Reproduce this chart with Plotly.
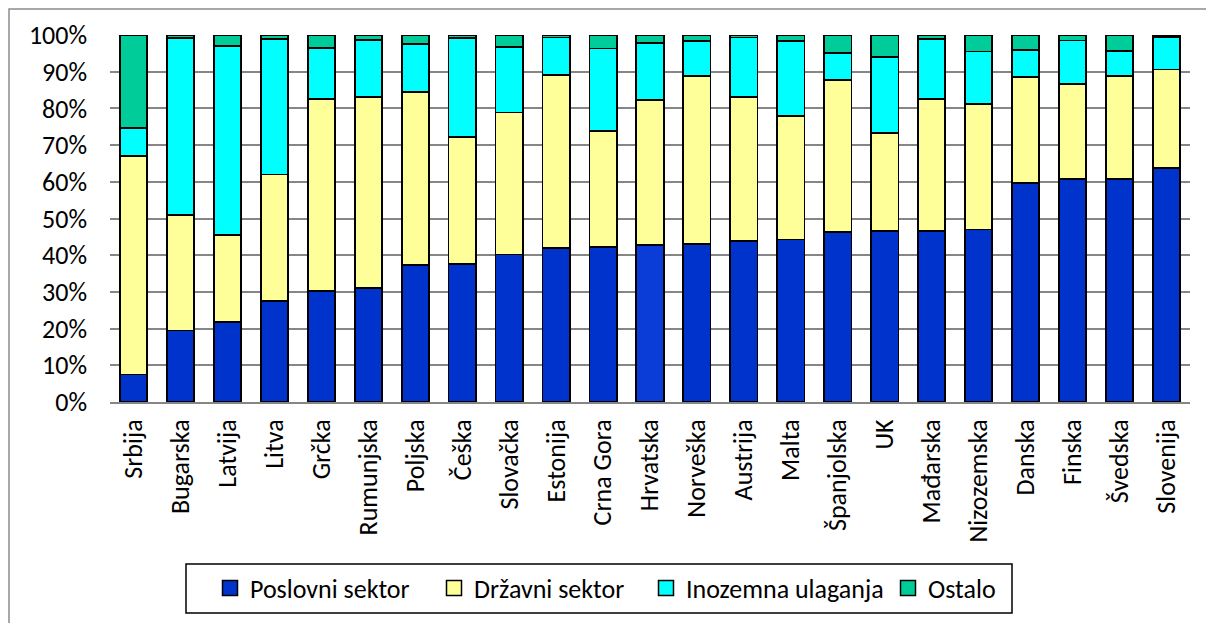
import plotly.graph_objects as go

countries = ["Srbija", "Bugarska", "Latvija", "Litva", "Grčka", "Rumunjska", "Poljska",
             "Češka", "Slovačka", "Estonija", "Crna Gora", "Hrvatska", "Norveška", "Austrija",
             "Malta", "Španjolska", "UK", "Mađarska", "Nizozemska", "Danska", "Finska",
             "Švedska", "Slovenija"]

poslovni = [7.5, 19.5, 21.7, 27.5, 30.3, 31.0, 37.4, 37.5, 40.2, 42.0, 42.3, 42.7,
            43.1, 43.9, 44.3, 46.3, 46.5, 46.6, 47.0, 59.7, 60.8, 60.8, 63.8]
drzavni = [59.5, 31.5, 23.9, 34.5, 52.2, 52.2, 47.1, 34.6, 38.7, 47.1, 31.6, 39.6,
           45.7, 39.1, 33.7, 41.4, 26.9, 35.9, 34.3, 28.9, 25.9, 28.0, 26.8]
inozemna = [7.7, 48.2, 51.5, 36.9, 13.9, 15.4, 13.0, 27.1, 17.9, 10.2, 22.4, 15.6,
            9.6, 16.3, 20.4, 7.5, 20.6, 16.5, 14.2, 7.4, 11.8, 6.8, 8.9]
ostalo = [25.3, 0.8, 2.9, 1.1, 3.6, 1.4, 2.5, 0.8, 3.2, 0.7, 3.7, 2.1,
          1.6, 0.7, 1.6, 4.8, 6.0, 1.0, 4.5, 4.0, 1.5, 4.4, 0.5]

y_ticks = [0, 10, 20, 30, 40, 50, 60, 70, 80, 90, 100]
y_tick_labels = ["0%", "10%", "20%", "30%", "40%", "50%", "60%", "70%", "80%", "90%", "100%"]

series_names = ["Poslovni sektor", "Državni sektor", "Inozemna ulaganja", "Ostalo"]
series_values = [poslovni, drzavni, inozemna, ostalo]
series_colors = ["#0033CC", "#FFFF99", "#00FFFF", "#00CC99"]

# layout (screen pixel positions of legend swatch centres)
legend_swatch_px = [231, 455, 667, 909]

FONT = "Carlito, Lato, 'Open Sans', sans-serif"
W, H = 1206, 615
ML, MR, MT, MB = 102, 24, 27, 221
OFF = 8  # page body margin
pw = W - ML - MR
ph = H - MT - MB


def px_x(sx):
    return (sx - OFF - ML) / pw


def px_y(sy):
    return (MT + ph - (sy - OFF)) / ph


fig = go.Figure()
for i, (name, vals, col) in enumerate(zip(series_names, series_values, series_colors)):
    if i == 0:
        colors = [("#0A3CD8" if c == "Hrvatska" else col) for c in countries]
    else:
        colors = col
    fig.add_trace(go.Bar(
        x=countries, y=vals, name=name, showlegend=False,
        marker=dict(color=colors, line=dict(color="#000000", width=1.8)),
    ))

legend_layouts = {}
for i, (name, col) in enumerate(zip(series_names, series_colors)):
    key = "legend" if i == 0 else f"legend{i + 1}"
    fig.add_trace(go.Scatter(
        x=[None], y=[None], mode="markers", name=name, legend=key, showlegend=True,
        marker=dict(symbol="square", size=15, color=col, line=dict(color="#000000", width=1.5)),
    ))
    legend_layouts[key] = dict(
        orientation="h", x=px_x(legend_swatch_px[i] - 21), xanchor="left",
        y=px_y(588), yanchor="middle", borderwidth=0, bgcolor="rgba(0,0,0,0)",
        font=dict(family=FONT, size=26, color="#000000"),
    )

fig.update_layout(
    barmode="stack",
    bargap=0.42,
    width=W, height=H,
    margin=dict(l=ML, r=MR, t=MT, b=MB),
    paper_bgcolor="white", plot_bgcolor="white",
    font=dict(family=FONT, size=26, color="#000000"),
    xaxis=dict(
        tickangle=-90, showgrid=False, showline=True, linecolor="#868686", linewidth=2,
        ticks="", tickfont=dict(family=FONT, size=26), fixedrange=True,
        ticklabelstandoff=5,
    ),
    yaxis=dict(
        range=[0, 100], tickvals=y_ticks, ticktext=y_tick_labels,
        showgrid=True, gridcolor="#868686", gridwidth=2,
        zeroline=False, showline=False, ticks="",
        tickfont=dict(family=FONT, size=26), fixedrange=True,
        ticklabelstandoff=22,
    ),
    shapes=[
        dict(type="rect", xref="paper", yref="paper",
             x0=(1 - ML) / pw, x1=(W + 20 - ML) / pw,
             y0=-(MB + 30) / ph, y1=(ph + MT - 1) / ph,
             line=dict(color="#8c8c8c", width=1.5), fillcolor="rgba(0,0,0,0)", layer="below"),
        dict(type="rect", xref="paper", yref="paper",
             x0=px_x(186), x1=px_x(1012), y0=px_y(613), y1=px_y(564),
             line=dict(color="#000000", width=1.5), fillcolor="rgba(0,0,0,0)", layer="below"),
    ],
    **legend_layouts,
)

fig.write_html("out.html")
